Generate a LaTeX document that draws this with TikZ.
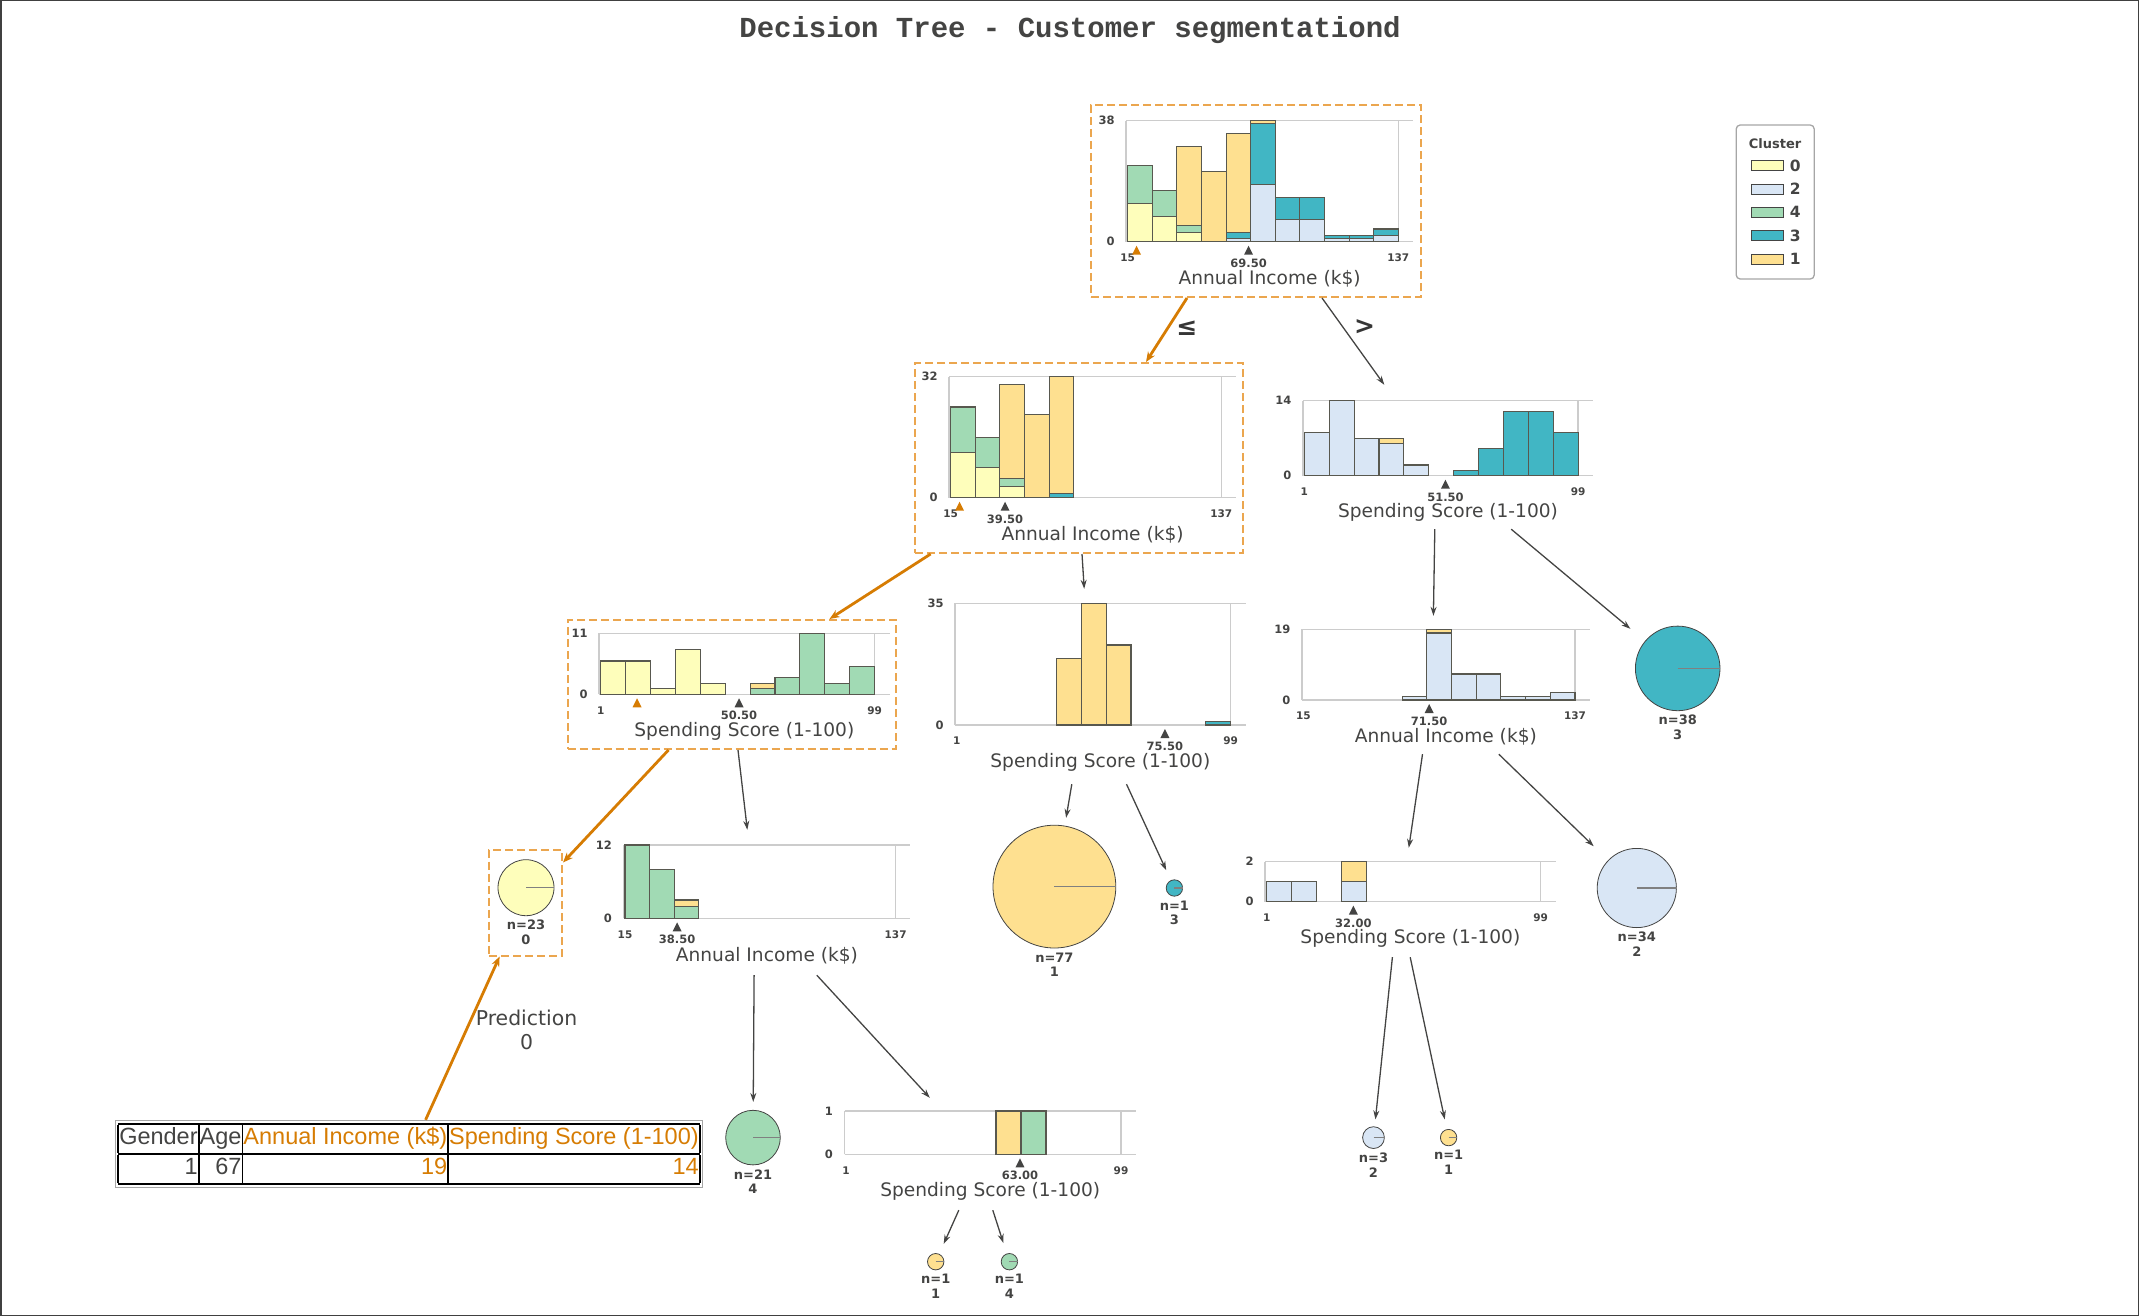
\documentclass[tikz,border=0pt]{standalone}
\usepackage{fontspec}
\setmainfont{DejaVu Sans}
\newfontfamily\tablefont{Liberation Sans}
\newfontfamily\titlefont{Liberation Mono}
\usetikzlibrary{positioning, calc, arrows.meta}

\definecolor{textgray}{HTML}{444443}
\definecolor{gridgray}{HTML}{CCCCCC}
\definecolor{barline}{HTML}{58584F}
\definecolor{hl}{HTML}{D67C03}
\definecolor{hlbox}{HTML}{EBA64F}
\definecolor{c0}{HTML}{FEFEBB}
\definecolor{c1}{HTML}{FEE090}
\definecolor{c2}{HTML}{D9E6F5}
\definecolor{c3}{HTML}{41B6C4}
\definecolor{c4}{HTML}{A1DAB4}

\tikzset{
  panel/.style={draw=none, inner sep=0pt},
  onpath/.style={panel, draw=hlbox, line width=2pt, dash pattern=on 8pt off 4pt},
  axisline/.style={draw=gridgray, line width=1.5pt},
  histbar/.style={draw=barline, line width=1.1pt},
  ylab/.style={anchor=east, xshift=-8pt, text=textgray, font=\bfseries\fontsize{11.5}{12}\selectfont},
  xtick/.style={yshift=-16pt, text=textgray, font=\bfseries\fontsize{10.5}{11}\selectfont},
  splitlab/.style={yshift=-21.5pt, text=textgray, font=\bfseries\fontsize{11.5}{12}\selectfont},
  axlab/.style={yshift=-37pt, text=textgray, font=\fontsize{18.6}{20}\selectfont},
  leafpie/.style={circle, draw=textgray, line width=0.8pt, inner sep=0pt},
  pieline/.style={draw=gray, line width=1.2pt},
  leaftext/.style={align=center, inner sep=0pt, text=textgray, font=\bfseries\fontsize{13}{14.5}\selectfont},
  treeedge/.style={draw=textgray, line width=1.3pt, -{Stealth[length=9pt,width=6pt]}},
  pathedge/.style={draw=hl, line width=2.8pt, -{Stealth[length=10pt,width=8pt]}},
  edgelab/.style={text=textgray!80!black, font=\bfseries\fontsize{25}{25}\selectfont},
  swatch/.style={draw=textgray, line width=0.8pt, inner sep=0pt, minimum width=31.6pt, minimum height=10pt},
  leglab/.style={inner sep=0pt, text=textgray, font=\bfseries\fontsize{15.5}{16}\selectfont},
}

% frame of one histogram: ymax, low tick, high tick, split position, split label, axis label
\newcommand{\histaxes}[6]{%
  \draw[axisline] (-0.06,0) -- (11.6,0) (-0.06,#1) -- (11.6,#1)
    (-0.06,0) -- (-0.06,#1) (11,0) -- (11,#1);
  \node[ylab] at (-0.06,#1) {#1};
  \node[ylab] at (-0.06,0) {0};
  \node[xtick] at (0,0) {#2};
  \node[xtick] at (11,0) {#3};
  \fill[textgray] ([yshift=-4pt]#4,0) -- ++(-4.5pt,-9pt) -- ++(9pt,0) -- cycle;
  \node[splitlab] at (#4,0) {#5};
  \node[axlab] at (5.77,0) {#6};
}
\newcommand{\instmark}[1]{\fill[hl] ([yshift=-4pt]#1,0) -- ++(-4.5pt,-9pt) -- ++(9pt,0) -- cycle;}
% leaf: name, position, radius, colour, n, class
\newcommand{\leafnode}[6]{%
  \node[leafpie, fill=#4, minimum size={2*#3pt}] (#1) at #2 {};
  \draw[pieline] (#1.center) -- (#1.east);
  \node[leaftext, below=4pt of #1] (#1txt) {n=#5\\#6};
}

\begin{document}
\begin{tikzpicture}[x=1pt, y=-1pt]
  \useasboundingbox (0,0) rectangle (2139,1316);
  \draw[black!75, line width=1.5pt] (0.75,0.75) rectangle (2138.25,1315.25);

  \node[text=textgray, font=\titlefont\bfseries\fontsize{29}{30}\selectfont] (title) at (1070,30) {Decision Tree - Customer segmentationd};

  % panels
  \node[onpath, minimum width=330pt, minimum height=192pt] (root) at (1256,201) {};
  \node[onpath, minimum width=328pt, minimum height=190pt] (l) at (1079,458) {};
  \node[panel, minimum width=325pt, minimum height=144pt] (r) at (1437.5,457) {};
  \node[onpath, minimum width=328pt, minimum height=129pt] (ll) at (731.5,684.5) {};
  \node[panel, minimum width=325pt, minimum height=195pt] (lr) at (1087.5,686.5) {};
  \node[panel, minimum width=325pt, minimum height=138pt] (rl) at (1437.5,685) {};
  \node[panel, minimum width=320pt, minimum height=145pt] (llr) at (755,902.5) {};
  \node[panel, minimum width=325pt, minimum height=109pt] (rll) at (1402.5,902.5) {};
  \node[panel, minimum width=325pt, minimum height=112pt] (llrr) at (982.5,1154) {};
  \node[onpath, minimum width=73pt, minimum height=106pt] (lllbox) at (525.5,902.5) {};

  % root: Annual Income, split 69.50
  \begin{scope}[xshift=1127.7pt, yshift=-241.7pt, x=24.6pt, y=3.184pt]
    \histaxes{38}{15}{137}{4.914}{69.50}{Annual Income (k\$)}
    \foreach \i/\a/\b/\c in {0/0/12/c0, 0/12/24/c4, 1/0/8/c0, 1/8/16/c4, 2/0/3/c0, 2/3/5/c4, 2/5/30/c1,
        3/0/22/c1, 4/0/1/c2, 4/1/3/c3, 4/3/34/c1, 5/0/18/c2, 5/18/37/c3, 5/37/38/c1,
        6/0/7/c2, 6/7/14/c3, 7/0/7/c2, 7/7/14/c3, 8/0/1/c2, 8/1/2/c3, 9/0/1/c2, 9/1/2/c3, 10/0/2/c2, 10/2/4/c3}
      \draw[histbar, fill=\c] (\i,\a) rectangle ({\i+1},\b);
    \instmark{0.361}
  \end{scope}

  % l: Annual Income, split 39.50
  \begin{scope}[xshift=950.7pt, yshift=-497.7pt, x=24.6pt, y=3.78pt]
    \histaxes{32}{15}{137}{2.209}{39.50}{Annual Income (k\$)}
    \foreach \i/\a/\b/\c in {0/0/12/c0, 0/12/24/c4, 1/0/8/c0, 1/8/16/c4, 2/0/3/c0, 2/3/5/c4, 2/5/30/c1,
        3/0/22/c1, 4/0/1/c3, 4/1/32/c1}
      \draw[histbar, fill=\c] (\i,\a) rectangle ({\i+1},\b);
    \instmark{0.361}
  \end{scope}

  % r: Spending Score, split 51.50
  \begin{scope}[xshift=1304.3pt, yshift=-475.7pt, x=24.9pt, y=5.357pt]
    \histaxes{14}{1}{99}{5.668}{51.50}{Spending Score (1-100)}
    \foreach \i/\a/\b/\c in {0/0/8/c2, 1/0/14/c2, 2/0/7/c2, 3/0/6/c2, 3/6/7/c1, 4/0/2/c2,
        6/0/1/c3, 7/0/5/c3, 8/0/12/c3, 9/0/12/c3, 10/0/8/c3}
      \draw[histbar, fill=\c] (\i,\a) rectangle ({\i+1},\b);
  \end{scope}

  % ll: Spending Score, split 50.50
  \begin{scope}[xshift=600.7pt, yshift=-694.3pt, x=24.9pt, y=5.545pt]
    \histaxes{11}{1}{99}{5.556}{50.50}{Spending Score (1-100)}
    \foreach \i/\a/\b/\c in {0/0/6/c0, 1/0/6/c0, 2/0/1/c0, 3/0/8/c0, 4/0/2/c0,
        6/0/1/c4, 6/1/2/c1, 7/0/3/c4, 8/0/11/c4, 9/0/2/c4, 10/0/5/c4}
      \draw[histbar, fill=\c] (\i,\a) rectangle ({\i+1},\b);
    \instmark{1.459}
  \end{scope}

  % lr: Spending Score, split 75.50
  \begin{scope}[xshift=956.7pt, yshift=-725pt, x=24.9pt, y=3.477pt]
    \histaxes{35}{1}{99}{8.362}{75.50}{Spending Score (1-100)}
    \foreach \i/\a/\b/\c in {4/0/19/c1, 5/0/35/c1, 6/0/23/c1, 10/0/1/c3}
      \draw[histbar, fill=\c] (\i,\a) rectangle ({\i+1},\b);
  \end{scope}

  % rl: Annual Income, split 71.50
  \begin{scope}[xshift=1303.3pt, yshift=-700pt, x=24.7pt, y=3.72pt]
    \histaxes{19}{15}{137}{5.094}{71.50}{Annual Income (k\$)}
    \foreach \i/\a/\b/\c in {4/0/1/c2, 5/0/18/c2, 5/18/19/c1, 6/0/7/c2, 7/0/7/c2,
        8/0/1/c2, 9/0/1/c2, 10/0/2/c2}
      \draw[histbar, fill=\c] (\i,\a) rectangle ({\i+1},\b);
  \end{scope}

  % llr: Annual Income, split 38.50
  \begin{scope}[xshift=625pt, yshift=-918.3pt, x=24.6pt, y=6.11pt]
    \histaxes{12}{15}{137}{2.119}{38.50}{Annual Income (k\$)}
    \foreach \i/\a/\b/\c in {0/0/12/c4, 1/0/8/c4, 2/0/2/c4, 2/2/3/c1}
      \draw[histbar, fill=\c] (\i,\a) rectangle ({\i+1},\b);
  \end{scope}

  % rll: Spending Score, split 32.00
  \begin{scope}[xshift=1266.7pt, yshift=-901.7pt, x=24.9pt, y=20pt]
    \histaxes{2}{1}{99}{3.480}{32.00}{Spending Score (1-100)}
    \foreach \i/\a/\b/\c in {0/0/1/c2, 1/0/1/c2, 3/0/1/c2, 3/1/2/c1}
      \draw[histbar, fill=\c] (\i,\a) rectangle ({\i+1},\b);
  \end{scope}

  % llrr: Spending Score, split 63.00
  \begin{scope}[xshift=846pt, yshift=-1154.3pt, x=25pt, y=43.3pt]
    \histaxes{1}{1}{99}{6.959}{63.00}{Spending Score (1-100)}
    \foreach \i/\a/\b/\c in {6/0/1/c1, 7/0/1/c4}
      \draw[histbar, fill=\c] (\i,\a) rectangle ({\i+1},\b);
  \end{scope}

  % leaves
  \leafnode{lll}{(526,887.7)}{28}{c0}{23}{0}
  \leafnode{lrl}{(1054.4,886.6)}{61.4}{c1}{77}{1}
  \leafnode{lrr}{(1174.4,888)}{8.2}{c3}{1}{3}
  \leafnode{rr}{(1677.7,668.4)}{42.3}{c3}{38}{3}
  \leafnode{rlr}{(1636.8,888)}{39.6}{c2}{34}{2}
  \leafnode{llrl}{(753,1137.6)}{27.3}{c4}{21}{4}
  \leafnode{rlll}{(1373.5,1137.6)}{10.9}{c2}{3}{2}
  \leafnode{rllr}{(1448.6,1137.6)}{8.2}{c1}{1}{1}
  \leafnode{llrrl}{(935.7,1261.7)}{8.2}{c1}{1}{1}
  \leafnode{llrrr}{(1009.4,1261.7)}{8.2}{c4}{1}{4}

  % legend
  \node[draw=gray!70, line width=1.3pt, rounded corners=4pt, minimum width=78pt, minimum height=154pt] (legend) at (1775.2,202) {};
  \node[text=textgray, font=\bfseries\fontsize{13}{14}\selectfont] (legendtitle) at (1775,143.3) {Cluster};
  \foreach \c/\lab [count=\k] in {c0/0, c2/2, c4/4, c3/3, c1/1} {
    \node[swatch, fill=\c] (sw\k) at (1767.5,{142.4+23.3*\k}) {};
    \node[leglab, right=6pt of sw\k] (swlab\k) {\lab};
  }

  % instance and prediction
  \node[draw=gray!70, line width=1pt, inner sep=2.5pt, font=\tablefont\fontsize{23.5}{28.5}\selectfont] (instance) at (409,1154) {%
    \setlength{\tabcolsep}{1pt}\setlength{\arrayrulewidth}{1.8pt}%
    \begin{tabular}{|r|r|r|r|}\hline
      \color{textgray}Gender & \color{textgray}Age & \color{hl}Annual Income (k\$) & \color{hl}Spending Score (1-100)\\\hline
      \color{textgray}1 & \color{textgray}67 & \color{hl}19 & \color{hl}14\\\hline
    \end{tabular}};
  \node[align=center, text=textgray, font=\fontsize{20.4}{24.5}\selectfont] (prediction) at (526.5,1030) {Prediction\\0};

  % connectors
  \draw[pathedge] ($(root.south west)+(97,0)$) -- node[edgelab, pos=0.47, xshift=19pt] {≤} ($(l.north west)+(232,0)$);
  \draw[treeedge] ($(root.south west)+(232,0)$) -- node[edgelab, pos=0.33, xshift=22pt] {>} ($(r.north west)+(109.5,0)$);
  \draw[pathedge] ($(l.south west)+(16.6,0)$) -- ($(ll.north west)+(263,0)$);
  \draw[treeedge] ($(l.south west)+(168,0)$) -- ($(lr.north west)+(159.4,0)$);
  \draw[treeedge] ($(r.south west)+(160,0)$) -- ($(rl.north west)+(158.6,0)$);
  \draw[treeedge, shorten >=19pt] ($(r.south west)+(236.4,0)$) -- (rr);
  \draw[pathedge] ($(ll.south west)+(102,0)$) -- ($(lllbox.north east)+(0,14)$);
  \draw[treeedge] ($(ll.south west)+(171.5,0)$) -- ($(llr.north west)+(152.5,0)$);
  \draw[treeedge, shorten >=8pt] ($(lr.south west)+(147,0)$) -- (lrl);
  \draw[treeedge, shorten >=11pt] ($(lr.south west)+(201.7,0)$) -- (lrr);
  \draw[treeedge] ($(rl.south west)+(147.7,0)$) -- ($(rll.north west)+(169,0)$);
  \draw[treeedge, shorten >=20pt] ($(rl.south west)+(224,0)$) -- (rlr);
  \draw[treeedge, shorten >=8pt] ($(llr.south west)+(159.3,0)$) -- (llrl);
  \draw[treeedge] ($(llr.south west)+(222,0)$) -- ($(llrr.north west)+(110,0)$);
  \draw[treeedge, shorten >=11pt] ($(llrr.south west)+(139,0)$) -- (llrrl);
  \draw[treeedge, shorten >=11pt] ($(llrr.south west)+(173,0)$) -- (llrrr);
  \draw[treeedge, shorten >=7pt] ($(rll.south west)+(152.6,0)$) -- (rlll);
  \draw[treeedge, shorten >=10pt] ($(rll.south west)+(170.4,0)$) -- (rllr);
  \draw[pathedge] ($(instance.north)+(16.6,0)$) -- ($(lllbox.south west)+(11.6,0)$);
\end{tikzpicture}
\end{document}
